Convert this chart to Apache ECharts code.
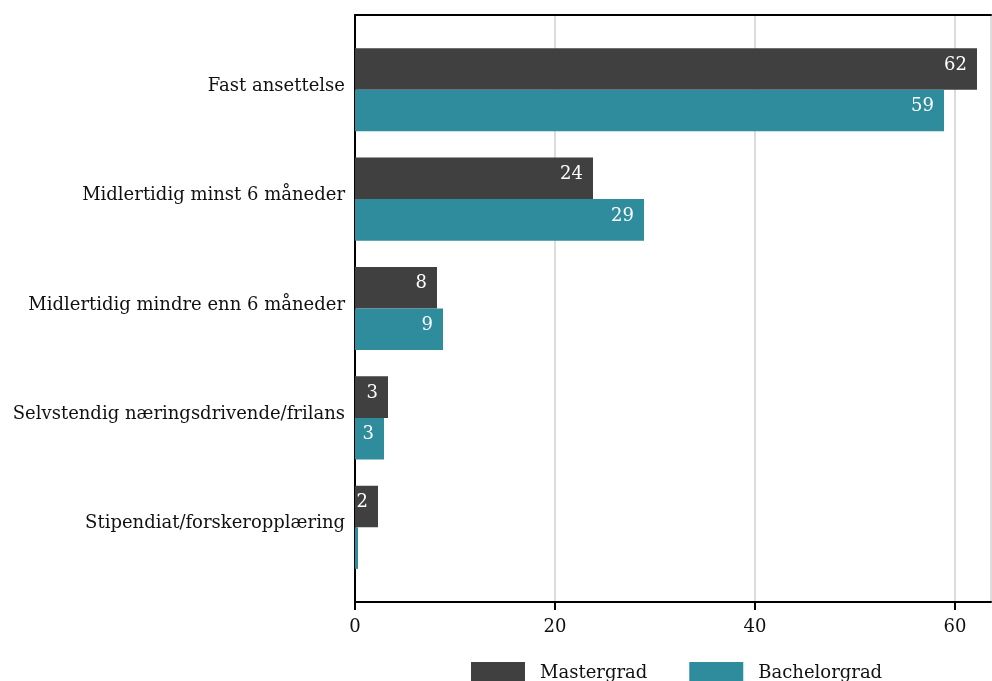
<!DOCTYPE html>
<html>
<head>
<meta charset="utf-8">
<script src="https://cdn.jsdelivr.net/npm/echarts@6/dist/echarts.min.js"></script>
<style>
html, body { margin: 0; padding: 0; background: #fff; }
#chart { width: 992px; height: 681px; }
</style>
</head>
<body>
<div id="chart"></div>
<script>
var categories = [
    'Fast ansettelse',
    'Midlertidig minst 6 måneder',
    'Midlertidig mindre enn 6 måneder',
    'Selvstendig næringsdrivende/frilans',
    'Stipendiat/forskeropplæring'
];
var masterData = [62.2, 23.8, 8.2, 3.3, 2.3];
var bachelorData = [58.9, 28.9, 8.8, 2.9, 0.3];
var xTicks = [0, 20, 40, 60];

var font = 'DejaVu Serif';
var fs = 18;
var chart = echarts.init(document.getElementById('chart'));

function barLabel(p) {
    var v = Math.round(p.value);
    return v > 0 ? String(v) : '';
}

var option = {
    backgroundColor: '#fff',
    textStyle: { fontFamily: font },
    legend: {
        data: ['Mastergrad', 'Bachelorgrad'],
        top: 657,
        left: 466,
        itemWidth: 54,
        itemHeight: 22,
        itemGap: 42,
        icon: 'rect',
        textStyle: { fontFamily: font, fontSize: fs, color: '#111', padding: [0, 0, 6, 10] }
    },
    grid: [
        // frame grid with axes and split lines
        { left: 355, right: 1, top: 15, bottom: 79 },
        // bar grid, padded inside the frame
        { left: 355, right: 1, top: 35, bottom: 99 }
    ],
    xAxis: [
        {
            gridIndex: 0,
            type: 'value',
            min: 0,
            max: 63.6,
            interval: 20,
            axisLine: { show: true, lineStyle: { color: '#000', width: 2 } },
            axisTick: { show: true, length: 8, lineStyle: { color: '#000', width: 2 } },
            axisLabel: {
                showMaxLabel: false,
                fontFamily: font, fontSize: fs, color: '#111', margin: 16,
                formatter: function (v) { return xTicks.indexOf(v) >= 0 ? String(v) : ''; }
            },
            splitLine: { show: true, lineStyle: { color: '#dcdcdc', width: 2 } }
        },
        {
            gridIndex: 0,
            type: 'value',
            position: 'top',
            min: 0,
            max: 63.6,
            axisLine: { show: true, onZero: false, lineStyle: { color: '#000', width: 2 } },
            axisTick: { show: false },
            axisLabel: { show: false },
            splitLine: { show: false }
        },
        {
            gridIndex: 1,
            type: 'value',
            min: 0,
            max: 63.6,
            show: false
        }
    ],
    yAxis: [
        {
            gridIndex: 0,
            type: 'value',
            axisLine: { show: true, lineStyle: { color: '#000', width: 2 } },
            axisTick: { show: false },
            axisLabel: { show: false },
            splitLine: { show: false }
        },
        {
            gridIndex: 1,
            type: 'category',
            inverse: true,
            data: categories,
            axisLine: { show: false },
            axisTick: { show: false },
            axisLabel: {
                fontFamily: font, fontSize: fs, color: '#111', margin: 10,
                formatter: function (v) { return '{c|' + v + '}'; },
                rich: { c: { fontFamily: font, fontSize: fs, color: '#111', padding: [0, 0, 7, 0] } }
            }
        }
    ],
    series: [
        {
            name: 'Mastergrad',
            type: 'bar',
            xAxisIndex: 2,
            yAxisIndex: 1,
            data: masterData,
            barGap: '0%',
            barCategoryGap: '24%',
            itemStyle: { color: '#404040' },
            label: {
                show: true, position: 'insideRight', distance: 10, offset: [0, -4],
                color: '#fff', fontFamily: font, fontSize: fs,
                formatter: barLabel
            }
        },
        {
            name: 'Bachelorgrad',
            type: 'bar',
            xAxisIndex: 2,
            yAxisIndex: 1,
            data: bachelorData,
            barGap: '0%',
            barCategoryGap: '24%',
            itemStyle: { color: '#2e8c9d' },
            label: {
                show: true, position: 'insideRight', distance: 10, offset: [0, -4],
                color: '#fff', fontFamily: font, fontSize: fs,
                formatter: barLabel
            }
        }
    ]
};
chart.setOption(option);
</script>
</body>
</html>
